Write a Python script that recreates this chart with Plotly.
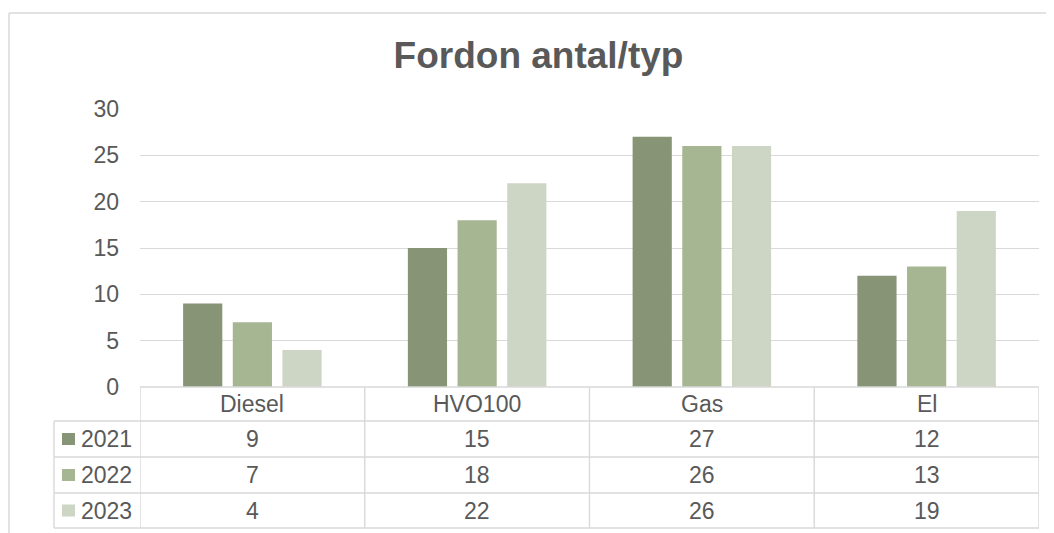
import plotly.graph_objects as go

categories = ["Diesel", "HVO100", "Gas", "El"]
years = ["2021", "2022", "2023"]
values_2021 = [9, 15, 27, 12]
values_2022 = [7, 18, 26, 13]
values_2023 = [4, 22, 26, 19]
series = [values_2021, values_2022, values_2023]
colors = ["#879476", "#a6b592", "#cdd6c4"]
title_text = "Fordon antal/typ"
y_ticks = [0, 5, 10, 15, 20, 25, 30]

W, H = 1054, 533
OFF = 8  # page body margin
# plot area in window pixels
WL, WR, WT, WB = 140, 1039, 109, 387
L, R, T, B = WL - OFF, WR - OFF, WT - OFF, WB - OFF
FONT = "Arial, Liberation Sans, sans-serif"
TXT = "#595959"
LINE = "#d9d9d9"


def px(xw):
    return (xw - WL) / (WR - WL)


def py(yw):
    return (WB - yw) / (WB - WT)


fig = go.Figure()
for name, vals, col in zip(years, series, colors):
    fig.add_trace(go.Bar(x=categories, y=vals, name=name,
                         marker=dict(color=col, line=dict(width=0)),
                         showlegend=False))

shapes = []
# chart frame (cropped on right / bottom)
shapes.append(dict(type="line", xref="paper", yref="paper", x0=px(9), x1=px(1070),
                   y0=py(13), y1=py(13), line=dict(color=LINE, width=1.5)))
shapes.append(dict(type="line", xref="paper", yref="paper", x0=px(9), x1=px(9),
                   y0=py(13), y1=py(545), line=dict(color=LINE, width=1.5)))

row_lines = [421, 457, 493, 528]
lw = 1.4
shapes.append(dict(type="line", xref="paper", yref="paper", x0=0, x1=1,
                   y0=py(387), y1=py(387), line=dict(color=LINE, width=lw)))
for yl in row_lines:
    shapes.append(dict(type="line", xref="paper", yref="paper", x0=px(54), x1=1,
                       y0=py(yl), y1=py(yl), line=dict(color=LINE, width=lw)))
shapes.append(dict(type="line", xref="paper", yref="paper", x0=px(54), x1=px(54),
                   y0=py(421), y1=py(528), line=dict(color=LINE, width=lw)))
for xv in [-0.5, 0.5, 1.5, 2.5, 3.5]:
    shapes.append(dict(type="line", xref="x", yref="paper", x0=xv, x1=xv,
                       y0=py(387), y1=py(528), line=dict(color=LINE, width=lw)))

row_centers = [439, 475, 510.5]
annotations = []
for i, c in enumerate(categories):
    annotations.append(dict(x=i, y=py(404), xref="x", yref="paper", text=c,
                            showarrow=False, xanchor="center", yanchor="middle",
                            font=dict(family=FONT, size=23, color=TXT)))
for r, (name, vals, col) in enumerate(zip(years, series, colors)):
    yc = row_centers[r]
    shapes.append(dict(type="rect", xref="paper", yref="paper", x0=px(62), x1=px(75),
                       y0=py(yc - 6), y1=py(yc + 6), fillcolor=col, line=dict(width=0)))
    annotations.append(dict(x=px(79), y=py(yc), xref="paper", yref="paper", text=name,
                            showarrow=False, xanchor="left", yanchor="middle",
                            font=dict(family=FONT, size=23, color=TXT)))
    for i, v in enumerate(vals):
        annotations.append(dict(x=i, y=py(yc), xref="x", yref="paper", text=str(v),
                                showarrow=False, xanchor="center", yanchor="middle",
                                font=dict(family=FONT, size=23, color=TXT)))

fig.update_layout(
    width=W, height=H,
    margin=dict(l=L, r=W - R, t=T, b=H - B, pad=0),
    paper_bgcolor="white", plot_bgcolor="white",
    barmode="group", bargap=0.337, bargroupgap=0.211,
    title=dict(text=title_text, xref="container", yref="container",
               x=(538.5 - OFF) / W, y=1 - (55 - OFF) / H,
               xanchor="center", yanchor="middle",
               font=dict(family=FONT, size=37, color=TXT, weight="bold")),
    xaxis=dict(range=[-0.5, 3.5], showticklabels=False, showgrid=False,
               zeroline=False, showline=False, fixedrange=True),
    yaxis=dict(range=[0, 30], tickvals=y_ticks, showgrid=True, gridcolor=LINE,
               gridwidth=1.4, zeroline=False, showline=False,
               tickfont=dict(family=FONT, size=23, color=TXT),
               ticks="", ticklabelstandoff=20),
    shapes=shapes, annotations=annotations,
)

fig.write_html("out.html")
